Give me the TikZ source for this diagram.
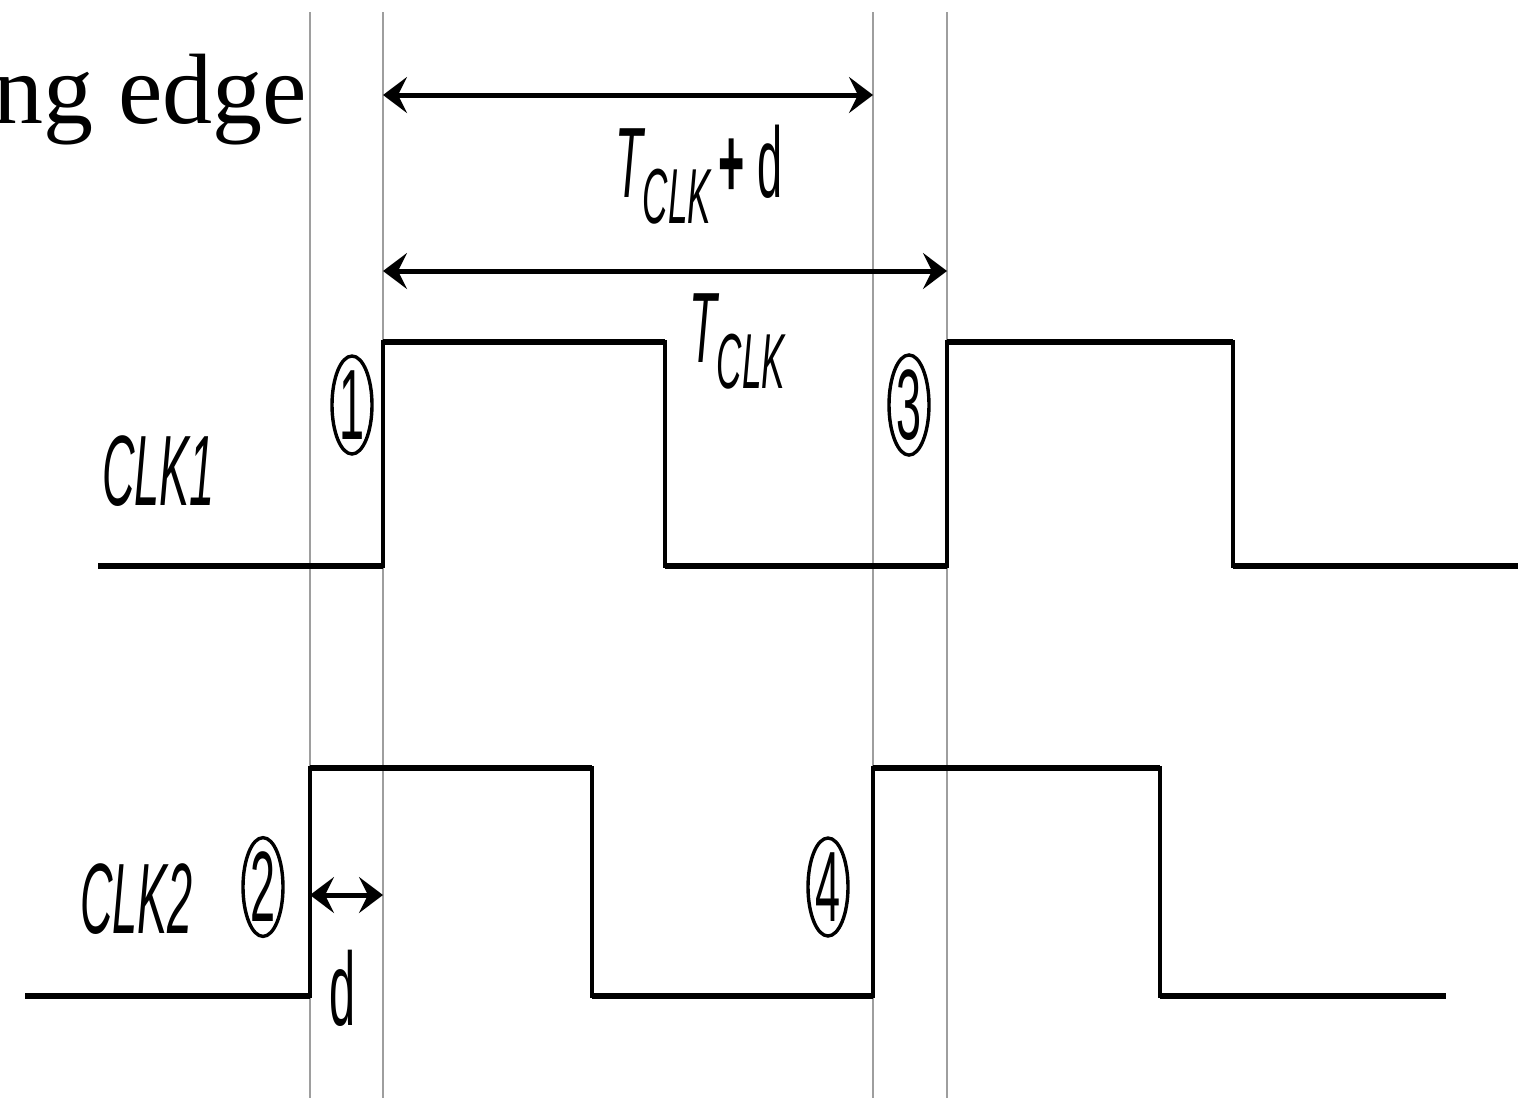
\documentclass[tikz,border=0pt]{standalone}
\usepackage{fontspec}
\setmainfont{Liberation Serif}
\setsansfont{Liberation Sans}
\usetikzlibrary{arrows.meta,shapes.geometric}
\newcommand{\narrow}[1]{\scalebox{0.45}[1]{#1}}

\begin{document}
\begin{tikzpicture}[x=1pt,y=-1pt,
	guide/.style={draw=black!38, line width=2pt},
	wave/.style={line width=3.4pt, line join=miter},
	level/.style={line width=6pt, line cap=butt},
	span/.style={line width=5pt, {Stealth[length=24pt,width=36pt,inset=9pt]}-{Stealth[length=24pt,width=36pt,inset=9pt]}},
	lab/.style={inner sep=0pt, font=\sffamily\fontsize{100}{100}\selectfont},
	numring/.style={draw, ellipse, line width=3.4pt, minimum width=40pt, minimum height=98pt, inner sep=0pt, font=\sffamily\fontsize{100}{100}\selectfont}]
			\useasboundingbox (0,0) rectangle (1525,1098);
			
			% guide lines at the edges
			\foreach \x in {310,383,873,947}
				\draw[guide] (\x,12) -- (\x,1098);
			
			% CLK1
			\draw[wave] (98,566) -- (383,566) -- (383,342) -- (665,342) -- (665,566) -- (947,566) -- (947,342) -- (1233,342) -- (1233,566) -- (1518,566);
			\foreach \xa/\xb/\y in {98/383/566, 383/665/342, 665/947/566, 947/1233/342, 1233/1518/566}
				\draw[level] (\xa,\y) -- (\xb,\y);
			
			% CLK2
			\draw[wave] (25,996) -- (310,996) -- (310,768) -- (592,768) -- (592,996) -- (873,996) -- (873,768) -- (1160,768) -- (1160,996) -- (1446,996);
			\foreach \xa/\xb/\y in {25/310/996, 310/592/768, 592/873/996, 873/1160/768, 1160/1446/996}
				\draw[level] (\xa,\y) -- (\xb,\y);
			
			% spans
			\coordinate (p1) at (383,95);
			\coordinate (p3) at (873,95);
			\coordinate (q1) at (383,271);
			\coordinate (q3) at (947,271);
			\coordinate (r2) at (310,895);
			\coordinate (r1) at (383,895);
			\draw[span] (p1) -- (p3);
			\draw[span] (q1) -- (q3);
			\draw[span] (r2) -- (r1);
			
			% labels
			\node[anchor=base east, inner sep=0pt, font=\rmfamily\fontsize{100}{100}\selectfont] (edge) at (307,123) {ng edge};
			\node[lab, anchor=base west] (tclkd) at (615,197) {\narrow{\itshape T\raisebox{-26pt}{\fontsize{78}{78}\selectfont CLK}\,\upshape\bfseries+\mdseries\ d}};
			\node[lab, anchor=base west] (tclk) at (689,362) {\narrow{\itshape T\raisebox{-26pt}{\fontsize{78}{78}\selectfont CLK}}};
			\node[lab, anchor=base west] (clk1) at (102,505) {\narrow{\itshape CLK1}};
			\node[lab, anchor=base west] (clk2) at (80,933) {\narrow{\itshape CLK2}};
			\node[lab, anchor=base, font=\sffamily\fontsize{104}{104}\selectfont] (dlab) at (343,1025) {\narrow{d}};
			
			\node[numring] (n1) at (352,405) {\narrow{1}};
			\node[numring] (n2) at (263,887) {\narrow{2}};
			\node[numring] (n3) at (909,405) {\narrow{3}};
			\node[numring] (n4) at (828,887) {\narrow{4}};
		\end{tikzpicture}
\end{document}
